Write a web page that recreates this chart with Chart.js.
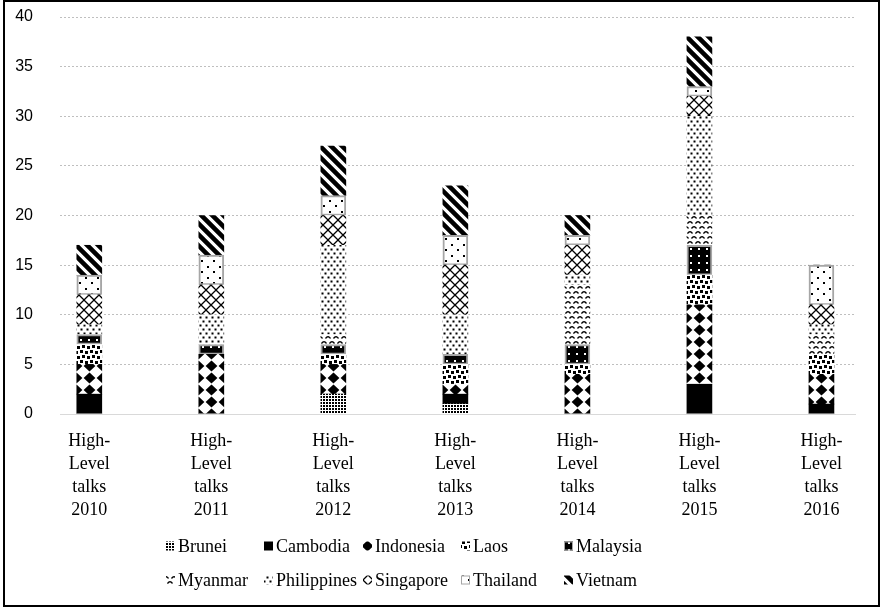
<!DOCTYPE html>
<html>
<head>
<meta charset="utf-8">
<script src="https://cdn.jsdelivr.net/npm/chart.js@4.4.1/dist/chart.umd.min.js"></script>
<style>
  html, body { margin: 0; padding: 0; background: #fff; }
  #frame { position: absolute; left: 3px; top: 0; width: 877px; height: 607px; border: 2px solid #000; box-sizing: border-box; }
  #wrap { position: absolute; left: 0; top: 0; width: 882px; height: 608px; }
</style>
</head>
<body>
<div id="frame"></div>
<div id="wrap"><canvas id="chart" width="882" height="608"></canvas></div>
<script>
// Number of high-level talks per ASEAN country, by year
const years = [2010, 2011, 2012, 2013, 2014, 2015, 2016];
const countries = ['Brunei', 'Cambodia', 'Indonesia', 'Laos', 'Malaysia',
                   'Myanmar', 'Philippines', 'Singapore', 'Thailand', 'Vietnam'];

const brunei      = [0, 0, 2, 1, 0, 0, 0];
const cambodia    = [2, 0, 0, 1, 0, 3, 1];
const indonesia   = [3, 6, 3, 1, 4, 8, 3];
const laos        = [2, 0, 1, 2, 1, 3, 2];
const malaysia    = [1, 1, 1, 1, 2, 3, 0];
const myanmar     = [0, 0, 1, 0, 6, 3, 2];
const philippines = [1, 3, 9, 4, 1, 10, 1];
const singapore   = [3, 3, 3, 5, 3, 2, 2];
const thailand    = [2, 3, 2, 3, 1, 1, 4];
const vietnam     = [3, 4, 5, 5, 2, 5, 0];

const yTicks = [0, 5, 10, 15, 20, 25, 30, 35, 40];
const categoryLines = ['High-', 'Level', 'talks'];

const seriesValues = [brunei, cambodia, indonesia, laos, malaysia,
                      myanmar, philippines, singapore, thailand, vietnam];

// ---- monochrome fill patterns -------------------------------------------
function makeTile(w, h, paint) {
  const cv = document.createElement('canvas');
  cv.width = w; cv.height = h;
  const g = cv.getContext('2d');
  g.fillStyle = '#fff';
  g.fillRect(0, 0, w, h);
  g.fillStyle = '#000';
  g.strokeStyle = '#000';
  paint(g, w, h);
  return cv;
}

const tiles = {
  Brunei: makeTile(3, 3, g => { g.fillRect(0, 0, 2, 2); }),
  Cambodia: makeTile(4, 4, (g, w, h) => { g.fillRect(0, 0, w, h); }),
  Indonesia: makeTile(13, 12, g => {
    g.beginPath();
    g.moveTo(6.5, 0.6); g.lineTo(12.4, 6); g.lineTo(6.5, 11.4); g.lineTo(0.6, 6);
    g.closePath(); g.fill();
  }),
  Laos: makeTile(10, 10, g => {
    g.fillRect(1, 1, 3, 3); g.fillRect(6, 0, 3, 3);
    g.fillRect(3, 6, 3, 3); g.fillRect(8, 5, 2, 3); g.fillRect(0, 5, 1, 3);
  }),
  Malaysia: makeTile(8, 7, (g, w, h) => {
    g.fillRect(0, 0, w, h);
    g.fillStyle = '#fff';
    g.fillRect(3, 3, 2, 2);
  }),
  // short horizontal arches, one per tile, rows offset like a brick wall
  Myanmar: makeTile(8, 10, g => {
    g.lineWidth = 1.3;
    g.beginPath();
    g.moveTo(0.5, 3.5); g.quadraticCurveTo(3, 0, 5.5, 3.5);
    g.moveTo(4.5, 8.5); g.quadraticCurveTo(7, 5, 9.5, 8.5);
    g.moveTo(-3.5, 8.5); g.quadraticCurveTo(-1, 5, 1.5, 8.5);
    g.stroke();
  }),
  Philippines: makeTile(6, 8, g => {
    g.fillRect(0.5, 0.5, 2, 2); g.fillRect(3.5, 4.5, 2, 2);
  }),
  Singapore: makeTile(10, 10, g => {
    g.lineWidth = 1.3;
    g.beginPath();
    g.moveTo(-1, -1); g.lineTo(11, 11);
    g.moveTo(11, -1); g.lineTo(-1, 11);
    g.stroke();
  }),
  Thailand: makeTile(12, 11, g => {
    g.fillRect(2, 2, 2, 2); g.fillRect(8, 7, 2, 2);
  }),
  Vietnam: makeTile(11, 11, g => {
    g.lineWidth = 4.6;
    g.beginPath();
    for (const k of [-11, 0, 11]) { g.moveTo(k - 2, -2); g.lineTo(k + 13, 13); }
    g.stroke();
  })
};

const patternCache = {};
function patternFor(name, originX) {
  const key = name + ':' + Math.round(originX);
  if (!patternCache[key]) {
    const cv = tiles[name];
    const ctx = document.getElementById('chart').getContext('2d');
    const p = ctx.createPattern(cv, 'repeat');
    p.setTransform(new DOMMatrix().translate(Math.round(originX - cv.width / 2), 0));
    patternCache[key] = p;
  }
  return patternCache[key];
}

const outlined = { Malaysia: true, Thailand: true };

const datasets = countries.map((name, i) => ({
  label: name,
  data: seriesValues[i],
  backgroundColor: c => {
    const xs = c.chart.scales && c.chart.scales.x;
    const x = (xs && c.dataIndex !== undefined) ? xs.getPixelForValue(years[c.dataIndex]) : 0;
    return patternFor(name, x);
  },
  borderColor: outlined[name] ? '#a6a6a6' : 'rgba(0,0,0,0)',
  borderWidth: outlined[name] ? 2 : 0,
  borderSkipped: false,
  barThickness: 25
}));

// ---- legend laid out as a 5-column grid ----------------------------------
const legendCols = [166, 264, 363, 461, 564];
const legendRows = [546, 580];
const gridLegend = {
  id: 'gridLegend',
  afterDraw(chart) {
    const ctx = chart.ctx;
    ctx.save();
    ctx.font = '18px "Liberation Serif"';
    ctx.textBaseline = 'middle';
    ctx.textAlign = 'left';
    countries.forEach((name, i) => {
      const x = legendCols[i % 5];
      const y = legendRows[Math.floor(i / 5)];
      const s = 9;
      ctx.fillStyle = patternFor(name, x + s / 2);
      ctx.fillRect(x, y - s / 2, s, s);
      if (outlined[name]) {
        ctx.strokeStyle = '#a6a6a6';
        ctx.lineWidth = 1;
        ctx.strokeRect(x + 0.5, y - s / 2 + 0.5, s - 1, s - 1);
      }
      ctx.fillStyle = '#000';
      ctx.fillText(name, x + 12, y + 1);
    });
    ctx.restore();
  }
};

new Chart(document.getElementById('chart'), {
  type: 'bar',
  data: { labels: years, datasets },
  plugins: [gridLegend],
  options: {
    responsive: false,
    animation: false,
    layout: { padding: { top: 17, right: 27, left: 0, bottom: 0 } },
    plugins: { legend: { display: false }, tooltip: { enabled: false } },
    scales: {
      x: {
        type: 'linear',
        stacked: true,
        offset: false,
        min: years[0] - 0.24,
        max: years[years.length - 1] + 0.275,
        afterBuildTicks: s => { s.ticks = years.map(v => ({ value: v })); },
        afterFit: s => { s.height = 194; },
        grid: { display: false, drawTicks: false, tickLength: 0 },
        border: { display: true, color: '#d9d9d9', width: 1 },
        ticks: {
          autoSkip: false,
          maxRotation: 0,
          padding: 16,
          color: '#000',
          font: { family: 'Liberation Serif', size: 18, lineHeight: 23 / 18 },
          callback: v => categoryLines.concat([String(v)])
        }
      },
      y: {
        stacked: true,
        min: yTicks[0],
        max: yTicks[yTicks.length - 1],
        afterBuildTicks: s => { s.ticks = yTicks.map(v => ({ value: v })); },
        afterFit: s => { s.width = 60; },
        grid: {
          drawTicks: true,
          tickLength: 24,
          tickColor: 'rgba(0,0,0,0)',
          color: c => (c.tick && c.tick.value === 0) ? 'rgba(0,0,0,0)' : '#bfbfbf',
          lineWidth: 1
        },
        border: { display: false, dash: [2, 2] },
        ticks: {
          padding: 3,
          color: '#000',
          font: { family: 'Liberation Sans', size: 16 }
        }
      }
    }
  }
});
</script>
</body>
</html>
